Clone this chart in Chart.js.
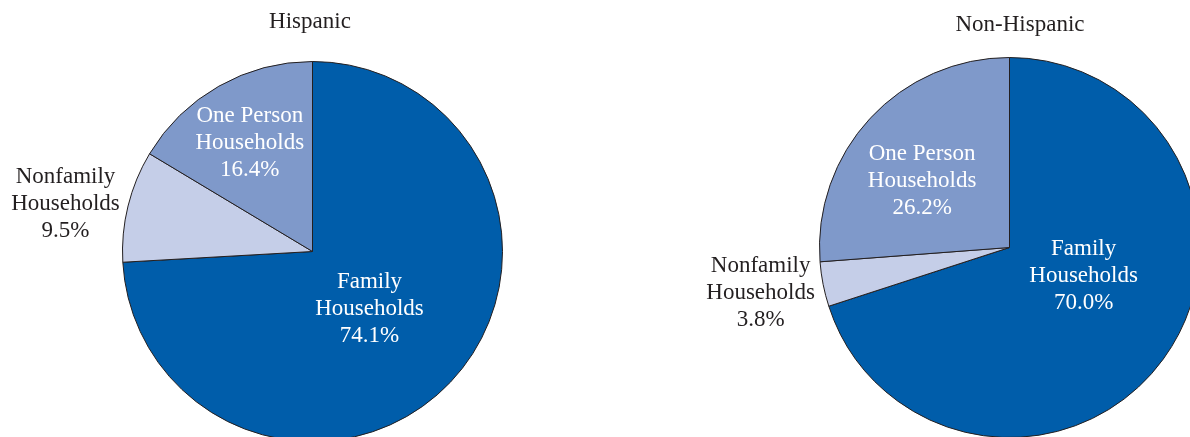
<!DOCTYPE html>
<html><head><meta charset="utf-8">
<script src="https://cdn.jsdelivr.net/npm/chart.js@4"></script>
<style>
html,body{margin:0;padding:0;width:1190px;height:437px;overflow:hidden;background:#fff}
#wrap{position:relative;width:1190px;height:437px;overflow:hidden}
canvas{position:absolute}
.title{position:absolute;font-family:"Liberation Serif",serif;font-size:23px;color:#231f20;transform:translateX(-50%);white-space:nowrap;line-height:1}
</style></head><body>
<div id="wrap">
<canvas id="c1" width="595" height="470" style="left:0;top:0"></canvas>
<canvas id="c2" width="620" height="470" style="left:595px;top:0"></canvas>
<div class="title" id="t1" style="left:310px;top:9px"></div>
<div class="title" id="t2" style="left:1020px;top:12px"></div>
</div>
<script>
// ---- data ----
const chartTitles = ['Hispanic', 'Non-Hispanic'];
const categories = [['Family', 'Households'], ['Nonfamily', 'Households'], ['One Person', 'Households']];
const hispanicValues = [74.1, 9.5, 16.4];
const nonHispanicValues = [70.0, 3.8, 26.2];

// ---- styles ----
const sliceColors = ['#005DAA', '#C5CEE8', '#7F99CA'];
const insideLabel = [true, false, true];
// label anchor relative to pie centre, in units of the pie radius
const placeHispanic = [{dx: 0.30, dy: 0.30}, {dx: -1.30, dy: -0.25}, {dx: -0.33, dy: -0.57}];
const placeNonHispanic = [{dx: 0.39, dy: 0.15}, {dx: -1.31, dy: 0.24}, {dx: -0.46, dy: -0.35}];

document.getElementById('t1').textContent = chartTitles[0];
document.getElementById('t2').textContent = chartTitles[1];

const sliceLabels = {
  id: 'sliceLabels',
  afterDatasetsDraw(chart, args, opts) {
    const ctx = chart.ctx;
    const meta = chart.getDatasetMeta(0);
    const vals = chart.data.datasets[0].data;
    meta.data.forEach((arc, i) => {
      const p = opts.place[i];
      const R = arc.outerRadius;
      const x = arc.x + p.dx * R, y = arc.y + p.dy * R;
      const lines = [...chart.data.labels[i], vals[i].toFixed(1) + '%'];
      ctx.save();
      ctx.font = '23px "Liberation Serif", serif';
      ctx.fillStyle = insideLabel[i] ? '#ffffff' : '#231f20';
      ctx.textAlign = 'center';
      ctx.textBaseline = 'middle';
      lines.forEach((l, k) => ctx.fillText(l, x, y + (k - (lines.length - 1) / 2) * 27));
      ctx.restore();
    });
  }
};

function makePie(id, values, place, padding) {
  return new Chart(document.getElementById(id), {
    type: 'pie',
    data: {
      labels: categories,
      datasets: [{
        data: values,
        backgroundColor: sliceColors,
        borderColor: '#231f20',
        borderWidth: 1
      }]
    },
    options: {
      responsive: false,
      animation: false,
      layout: {padding: padding},
      plugins: {
        legend: {display: false},
        tooltip: {enabled: false},
        sliceLabels: {place: place}
      }
    },
    plugins: [sliceLabels]
  });
}

makePie('c1', hispanicValues, placeHispanic, {left: 122, top: 61, right: 92, bottom: 28});
makePie('c2', nonHispanicValues, placeNonHispanic, {left: 224, top: 57, right: 15, bottom: 32});
</script>
</body></html>
